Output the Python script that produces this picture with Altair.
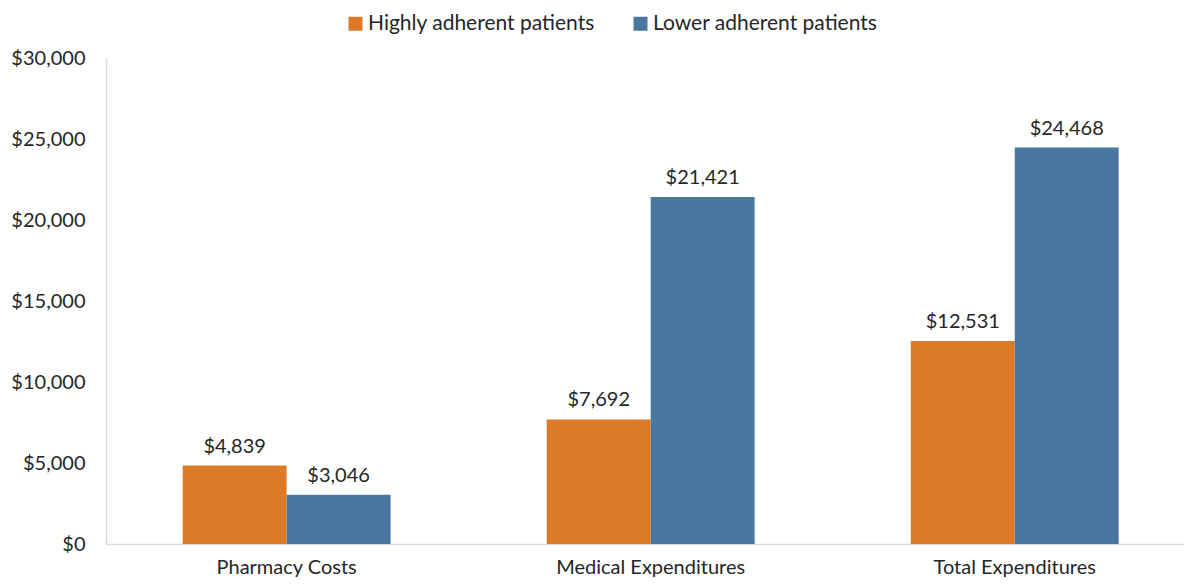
import altair as alt
import pandas as pd

categories = ["Pharmacy Costs", "Medical Expenditures", "Total Expenditures"]
series = ["Highly adherent patients", "Lower adherent patients"]
highly = [4839, 7692, 12531]
lower = [3046, 21421, 24468]
colors = ["#DC7A2A", "#4A77A0"]

rows = []
for c, h, l in zip(categories, highly, lower):
    rows.append({"category": c, "group": series[0], "value": h})
    rows.append({"category": c, "group": series[1], "value": l})
df = pd.DataFrame(rows)

FONT = "Lato"
TXT = "#262626"

x = alt.X("category:N", sort=categories, title=None,
          scale=alt.Scale(paddingInner=0.429, paddingOuter=0.195, align=0.54),
          axis=alt.Axis(labelAngle=0, labelFontSize=20, labelFont=FONT, labelColor=TXT,
                        labelLimit=400, ticks=False, domainColor="#D9D9D9", domainWidth=1.5,
                        labelPadding=13))
y = alt.Y("value:Q", title=None,
          scale=alt.Scale(domain=[0, 30000]),
          axis=alt.Axis(values=[0, 5000, 10000, 15000, 20000, 25000, 30000], format="$,.0f",
                        grid=False, ticks=False, labelFontSize=20, labelFont=FONT,
                        labelColor=TXT, domainColor="#D9D9D9", domainWidth=1.5,
                        labelPadding=21))
xo = alt.XOffset("group:N", sort=series)

bars = alt.Chart(df).mark_bar().encode(
    x=x, y=y, xOffset=xo,
    color=alt.Color("group:N", sort=series, title=None,
                    scale=alt.Scale(domain=series, range=colors),
                    legend=alt.Legend(orient="none", legendX=239, legendY=-45, direction="horizontal",
                                      symbolType="square", symbolSize=196, symbolStrokeWidth=0,
                                      labelFontSize=21, labelFont=FONT, labelColor=TXT,
                                      labelLimit=400, columnPadding=35, symbolOffset=0,
                                      labelOffset=2)),
)

labels = alt.Chart(df).mark_text(dy=-9, baseline="bottom", fontSize=20, font=FONT, color=TXT).encode(
    x=x, y=y, xOffset=xo,
    text=alt.Text("value:Q", format="$,.0f"),
)

chart = (bars + labels).properties(
    width=1078, height=486,
    autosize=alt.AutoSizeParams(type="none"),
    padding={"left": 98, "top": 50, "right": 0, "bottom": 36},
).configure_view(stroke=None)

chart.save("out.html", embed_options={"renderer": "svg", "actions": False})
